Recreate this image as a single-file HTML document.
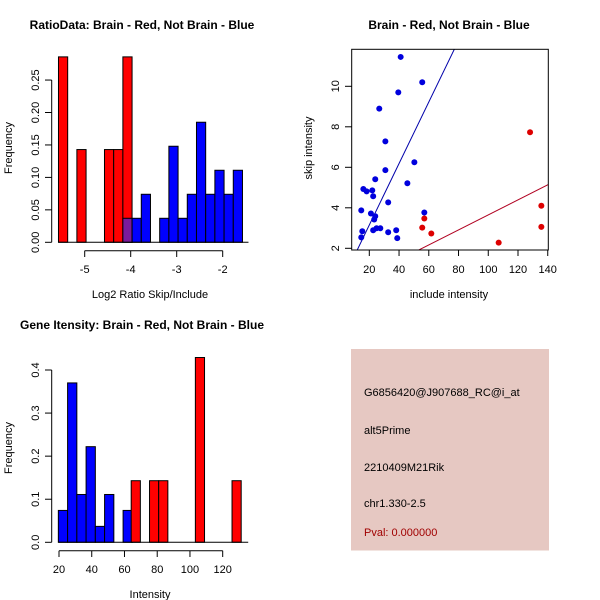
<!DOCTYPE html>
<html><head><meta charset="utf-8"><style>body{margin:0;background:#fff}svg{display:block}text{font-family:"Liberation Sans",sans-serif}</style></head>
<body>
<svg id="s" width="600" height="600" xmlns="http://www.w3.org/2000/svg">
<rect width="600" height="600" fill="#fff"/>
<g id="p1"></g>
<g id="p2"></g>
<g id="p3"></g>
<g>
<rect x="351" y="349" width="198" height="201.5" fill="#e6c8c2"/>
<text x="364" y="396" font-size="11">G6856420@J907688_RC@i_at</text>
<text x="364" y="434" font-size="11">alt5Prime</text>
<text x="364" y="471" font-size="11">2210409M21Rik</text>
<text x="364" y="507" font-size="11">chr1.330-2.5</text>
<text x="364" y="536" font-size="11" fill="#a00000">Pval: 0.000000</text>
</g>
</svg>
<script>
// Panel 1 data
const h1RedStart=[-5.57,-5.17,-4.57,-4.37,-4.17];
const h1RedVal=[0.2857,0.1429,0.1429,0.1429,0.2857];
const h1BlueStart=[-4.17,-3.97,-3.77,-3.37,-3.17,-2.97,-2.77,-2.57,-2.37,-2.17,-1.97,-1.77];
const h1BlueVal=[0.037,0.037,0.074,0.037,0.148,0.037,0.074,0.185,0.074,0.111,0.074,0.111];
const h1Width=0.2;
const h1XTicks=[-5,-4,-3,-2];
const h1YTicks=[0,0.05,0.10,0.15,0.20,0.25];
const h1YLabels=["0.00","0.05","0.10","0.15","0.20","0.25"];
// Panel 2 data
const blueX=[41.1,55.6,39.5,26.7,30.8,50.3,30.8,45.6,24.0,16.0,18.2,22.0,22.6,32.7,14.6,21.1,24.0,23.3,57.0,15.3,14.6,22.6,24.9,27.4,32.7,38.1,38.8];
const blueY=[11.45,10.2,9.7,8.9,7.28,6.25,5.86,5.21,5.41,4.93,4.81,4.86,4.57,4.27,3.87,3.72,3.58,3.42,3.77,2.84,2.54,2.89,2.99,2.99,2.79,2.89,2.5];
const redX=[128.1,135.7,135.7,57.0,55.6,61.7,107.0];
const redY=[7.73,4.1,3.06,3.47,3.02,2.73,2.28];
const blueFit=[0.114,0.1518];
const redFit=[-0.06,0.0371];
const sXTicks=[20,40,60,80,100,120,140];
const sYTicks=[2,4,6,8,10];
// Panel 3 data
const h3BlueStart=[19.6,25.25,30.9,36.55,42.2,47.85,59.15];
const h3BlueVal=[0.074,0.37,0.111,0.222,0.037,0.111,0.074];
const h3BlueWidth=5.65;
const h3RedStart=[64.1,75.3,80.9,103.3,125.7];
const h3RedVal=[0.143,0.143,0.143,0.429,0.143];
const h3RedWidth=5.6;
const h3XTicks=[20,40,60,80,100,120];
const h3YTicks=[0,0.1,0.2,0.3,0.4];

const NS="http://www.w3.org/2000/svg";
function mk(parent,tag,attrs){const e=document.createElementNS(NS,tag);for(const k in attrs)e.setAttribute(k,attrs[k]);parent.appendChild(e);return e;}
function txt(parent,x,y,s,size,anchor,rot){const t=mk(parent,'text',{x:x,y:y,'font-size':size,'text-anchor':anchor||'middle'});if(rot)t.setAttribute('transform','rotate(-90 '+x+' '+y+')');t.textContent=s;return t;}

// ---- Panel 1
(function(){
const g=document.getElementById('p1');
const X=v=>84.7+(v+5)*46, Y=v=>242.3-v*649;
h1RedStart.forEach((s,i)=>{const r=mk(g,'rect',{x:X(s),y:Y(h1RedVal[i]),width:X(s+h1Width)-X(s),height:Y(0)-Y(h1RedVal[i]),fill:'#ff0000',stroke:'#000','stroke-width':1});

});
h1BlueStart.forEach((s,i)=>{let col='#0000ff';
const j=h1RedStart.findIndex(r=>Math.abs(r-s)<1e-6); if(j>=0) col='#7a1a9a';
const r=mk(g,'rect',{x:X(s),y:Y(h1BlueVal[i]),width:X(s+h1Width)-X(s),height:Y(0)-Y(h1BlueVal[i]),fill:col,stroke:'#000','stroke-width':1});

});
mk(g,'line',{x1:X(h1RedStart[0]),x2:X(h1BlueStart[h1BlueStart.length-1]+h1Width)+6,y1:Y(0),y2:Y(0),stroke:'#000'});
mk(g,'line',{x1:51.7,x2:51.7,y1:Y(0),y2:Y(0.25),stroke:'#000'});
h1YTicks.forEach((v,i)=>{mk(g,'line',{x1:51.7,x2:45,y1:Y(v),y2:Y(v),stroke:'#000'});const t=txt(g,39,Y(v),h1YLabels[i],11,'middle',true);
});
mk(g,'line',{x1:X(-5),x2:X(-2),y1:250.7,y2:250.7,stroke:'#000'});
h1XTicks.forEach(v=>{mk(g,'line',{x1:X(v),x2:X(v),y1:250.7,y2:257,stroke:'#000'});const t=txt(g,X(v),273,String(v),11);
});
const a=txt(g,150,298,'Log2 Ratio Skip/Include',11);

const b=txt(g,12,148,'Frequency',11,'middle',true);

const c=mk(g,'text',{x:142,y:29,'font-size':12,'font-weight':'bold','text-anchor':'middle'});c.textContent='RatioData: Brain - Red, Not Brain - Blue';


})();

// ---- Panel 2
(function(){
const g=document.getElementById('p2');
const X=v=>369.3+(v-20)*1.487, Y=v=>248.3-(v-2)*20.25;
const cp=mk(g,'clipPath',{id:'c2'});mk(cp,'rect',{x:351.7,y:49.3,width:196.6,height:200.7});
const lg=mk(g,'g',{'clip-path':'url(#c2)'});
const xa=0,xb=150;
const l1=mk(lg,'line',{x1:X(xa),y1:Y(blueFit[0]+blueFit[1]*xa),x2:X(xb),y2:Y(blueFit[0]+blueFit[1]*xb),stroke:'#0000aa','stroke-width':1});


const l2=mk(lg,'line',{x1:X(xa),y1:Y(redFit[0]+redFit[1]*xa),x2:X(xb),y2:Y(redFit[0]+redFit[1]*xb),stroke:'#b00020','stroke-width':1});


blueX.forEach((x,i)=>{const c=mk(lg,'circle',{cx:X(x),cy:Y(blueY[i]),r:3,fill:'#0000dd'});
});
redX.forEach((x,i)=>{const c=mk(lg,'circle',{cx:X(x),cy:Y(redY[i]),r:3,fill:'#dd0000'});
});
mk(g,'rect',{x:351.7,y:49.3,width:196.6,height:200.7,fill:'none',stroke:'#000'});
sXTicks.forEach(v=>{mk(g,'line',{x1:X(v),x2:X(v),y1:250,y2:256,stroke:'#000'});const t=txt(g,X(v),273,String(v),11);
});
sYTicks.forEach(v=>{mk(g,'line',{x1:351.7,x2:345,y1:Y(v),y2:Y(v),stroke:'#000'});const t=txt(g,339,Y(v),String(v),11,'middle',true);
});
const a=txt(g,449,298,'include intensity',11);

const b=txt(g,312,148,'skip intensity',11,'middle',true);

const c=mk(g,'text',{x:449,y:29,'font-size':12,'font-weight':'bold','text-anchor':'middle'});c.textContent='Brain - Red, Not Brain - Blue';


})();

// ---- Panel 3
(function(){
const g=document.getElementById('p3');
const X=v=>59+(v-20)*1.637, Y=v=>542.3-v*430.75;
h3BlueStart.forEach((s,i)=>{const r=mk(g,'rect',{x:X(s),y:Y(h3BlueVal[i]),width:X(s+h3BlueWidth)-X(s),height:Y(0)-Y(h3BlueVal[i]),fill:'#0000ff',stroke:'#000'});

});
h3RedStart.forEach((s,i)=>{const r=mk(g,'rect',{x:X(s),y:Y(h3RedVal[i]),width:X(s+h3RedWidth)-X(s),height:Y(0)-Y(h3RedVal[i]),fill:'#ff0000',stroke:'#000'});

});
mk(g,'line',{x1:X(h3BlueStart[0]),x2:X(h3RedStart[h3RedStart.length-1]+h3RedWidth)+7,y1:Y(0),y2:Y(0),stroke:'#000'});
mk(g,'line',{x1:51.7,x2:51.7,y1:Y(0),y2:Y(0.4),stroke:'#000'});
h3YTicks.forEach(v=>{mk(g,'line',{x1:51.7,x2:45,y1:Y(v),y2:Y(v),stroke:'#000'});const t=txt(g,39,Y(v),v.toFixed(1),11,'middle',true);
});
mk(g,'line',{x1:X(20),x2:X(120),y1:550.7,y2:550.7,stroke:'#000'});
h3XTicks.forEach(v=>{mk(g,'line',{x1:X(v),x2:X(v),y1:550.7,y2:557,stroke:'#000'});const t=txt(g,X(v),573,String(v),11);
});
const a=txt(g,150,598,'Intensity',11);

const b=txt(g,12,448,'Frequency',11,'middle',true);

const c=mk(g,'text',{x:142,y:329,'font-size':12,'font-weight':'bold','text-anchor':'middle'});c.textContent='Gene Itensity: Brain - Red, Not Brain - Blue';


})();
</script>
</body></html>
